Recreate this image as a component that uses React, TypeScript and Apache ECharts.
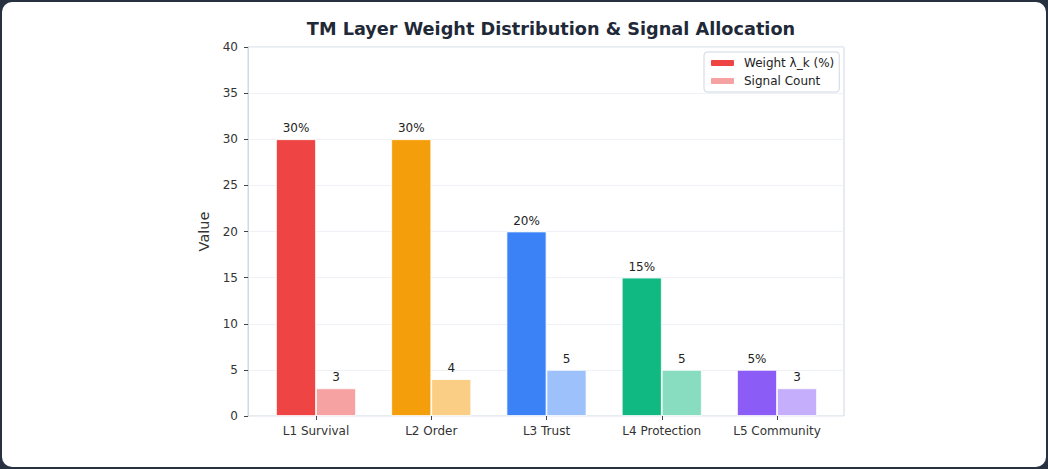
import React, { useEffect, useRef } from "react";
import * as echarts from "echarts";

const categories = ["L1 Survival", "L2 Order", "L3 Trust", "L4 Protection", "L5 Community"];
const weights = [30, 30, 20, 15, 5];
const signals = [3, 4, 5, 5, 3];
const layerColors = ["#ef4444", "#f59e0b", "#3b82f6", "#10b981", "#8b5cf6"];
const yTicks = { min: 0, max: 40, interval: 5 };

function lighten(hex: string, a: number) {
  const n = parseInt(hex.slice(1), 16);
  const r = (n >> 16) & 255, g = (n >> 8) & 255, b = n & 255;
  const m = (c: number) => Math.round(c * a + 255 * (1 - a));
  return `rgb(${m(r)},${m(g)},${m(b)})`;
}

const FONT = "DejaVu Sans";

export default function App() {
  const ref = useRef<HTMLDivElement>(null);
  useEffect(() => {
    if (!ref.current) return;
    const chart = echarts.init(ref.current, null, { renderer: "svg" });
    const lightColors = layerColors.map((c) => lighten(c, 0.5));
    chart.setOption({
      animation: false,
      textStyle: { fontFamily: FONT },
      title: {
        text: "TM Layer Weight Distribution & Signal Allocation",
        left: 546,
        top: 15,
        textAlign: "center",
        textStyle: { fontFamily: FONT, fontSize: 17.7, fontWeight: "bold", color: "#1f2937" },
      },
      legend: {
        orient: "vertical",
        left: 704,
        top: 52,
        padding: [4, 5, 4, 5],
        itemWidth: 25,
        itemHeight: 8,
        itemGap: 4,
        borderColor: "#cfd8e3",
        borderWidth: 1,
        borderRadius: 3,
        backgroundColor: "#ffffff",
        textStyle: { fontFamily: FONT, fontSize: 12, color: "#222", lineHeight: 14, padding: [0, 0, 0, 4] },
        data: ["Weight λ_k (%)", "Signal Count"],
      },
      grid: [
        { left: 248, top: 47, width: 596, height: 369, show: true, borderColor: "#cfd8e3", borderWidth: 1, backgroundColor: "transparent" },
        { left: 258.375, top: 47, width: 576.25, height: 369 },
      ],
      xAxis: [
        { type: "value", gridIndex: 0, min: 0, max: 1, show: false },
        {
          type: "category",
          gridIndex: 1,
          data: categories,
          axisLine: { show: false },
          axisTick: { show: true, alignWithLabel: true, length: 4, lineStyle: { color: "#444" } },
          axisLabel: { fontFamily: FONT, fontSize: 12, color: "#333", margin: 9 },
        },
      ],
      yAxis: [
        {
          type: "value",
          gridIndex: 0,
          min: yTicks.min,
          max: yTicks.max,
          interval: yTicks.interval,
          name: "Value",
          nameLocation: "middle",
          nameGap: 24,
          nameTextStyle: { fontFamily: FONT, fontSize: 14.5, color: "#333" },
          axisLine: { show: true, lineStyle: { color: "#cfd8e3" } },
          axisTick: { show: true, length: 4, lineStyle: { color: "#444" } },
          axisLabel: { fontFamily: FONT, fontSize: 12, color: "#333", margin: 10 },
          splitLine: { show: true, lineStyle: { color: "#eef1f6", width: 1 } },
        },
        { type: "value", gridIndex: 1, min: yTicks.min, max: yTicks.max, interval: yTicks.interval, show: false },
      ],
      series: [
        {
          name: "Weight λ_k (%)",
          type: "bar",
          xAxisIndex: 1,
          yAxisIndex: 1,
          barWidth: 40,
          barGap: "0%",
          itemStyle: { color: layerColors[0], borderColor: "#ffffff", borderWidth: 0.8 },
          data: weights.map((v, i) => ({ value: v, itemStyle: { color: layerColors[i] } })),
          label: { show: true, position: "top", distance: 5, formatter: "{c}%", fontFamily: FONT, fontSize: 12, color: "#222" },
        },
        {
          name: "Signal Count",
          type: "bar",
          xAxisIndex: 1,
          yAxisIndex: 1,
          barWidth: 40,
          barGap: "0%",
          itemStyle: { color: lightColors[0], borderColor: "#ffffff", borderWidth: 0.8 },
          data: signals.map((v, i) => ({ value: v, itemStyle: { color: lightColors[i] } })),
          label: { show: true, position: "top", distance: 5, fontFamily: FONT, fontSize: 12, color: "#222" },
        },
      ],
    });
    return () => chart.dispose();
  }, []);
  return (
    <div style={{ position: "fixed", left: 0, top: 0, width: 1048, height: 469, background: "#273140" }}>
      <div style={{ position: "absolute", left: 2, top: 2, width: 1044, height: 465, background: "#ffffff", borderRadius: 10 }} />
      <div ref={ref} style={{ position: "absolute", left: 0, top: 0, width: 1048, height: 469 }} />
    </div>
  );
}
